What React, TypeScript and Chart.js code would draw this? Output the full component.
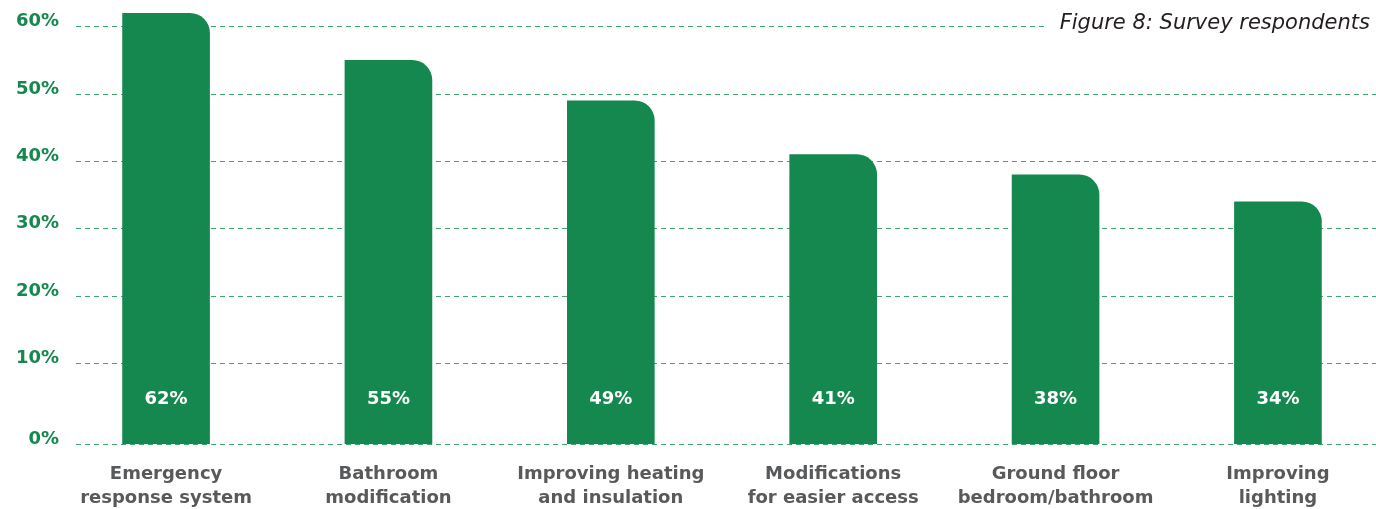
import React, { useEffect, useRef } from 'react';
import { Chart, registerables } from 'chart.js';

Chart.register(...registerables);

// ---- data ----
const categories: string[][] = [
  ['Emergency', 'response system'],
  ['Bathroom', 'modification'],
  ['Improving heating', 'and insulation'],
  ['Modifications', 'for easier access'],
  ['Ground floor', 'bedroom/bathroom'],
  ['Improving', 'lighting'],
];
const values: number[] = [62, 55, 49, 41, 38, 34];
const yTickValues: number[] = [-2, 10, 20, 30, 40, 50, 60];
const yTickLabels: string[] = ['0%', '10%', '20%', '30%', '40%', '50%', '60%'];
const titleText = 'Figure 8: Survey respondents';

// ---- styling constants ----
const AXIS_FLOOR = -2; // the reference's baseline sits slightly below the scale's zero
const AXIS_TOP = 63;
const VALUE_LABEL_LEVEL = 4.7;
const GREEN = '#14884f';
const GRID_GREEN = '#3fa66e';
const GREY = '#58595b';
const FONT = "'DejaVu Sans', sans-serif";

const valueLabelPlugin = {
  id: 'valueLabels',
  afterDatasetsDraw(chart: any) {
    const ctx = chart.ctx;
    const meta = chart.getDatasetMeta(0);
    const y = chart.scales.y.getPixelForValue(VALUE_LABEL_LEVEL);
    ctx.save();
    ctx.font = `bold 18px ${FONT}`;
    ctx.fillStyle = '#ffffff';
    ctx.textAlign = 'center';
    ctx.textBaseline = 'middle';
    meta.data.forEach((el: any, i: number) => {
      ctx.fillText(`${values[i]}%`, el.x, y);
    });
    ctx.restore();
  },
};

const titlePlugin = {
  id: 'figTitle',
  afterDraw(chart: any) {
    const ctx = chart.ctx;
    ctx.save();
    ctx.font = `italic 21px ${FONT}`;
    const w = ctx.measureText(titleText).width;
    const right = chart.width - 6;
    ctx.fillStyle = '#ffffff';
    ctx.fillRect(right - w - 12, 8, w + 18, 28);
    ctx.fillStyle = '#231f20';
    ctx.textAlign = 'right';
    ctx.textBaseline = 'alphabetic';
    ctx.fillText(titleText, right, 29);
    ctx.restore();
  },
};

const zeroPadding = (s: any) => {
  s.paddingLeft = 0;
  s.paddingRight = 0;
  s.paddingTop = 0;
  s.paddingBottom = 0;
};

export default function App() {
  const canvasRef = useRef<HTMLCanvasElement | null>(null);

  useEffect(() => {
    const canvas = canvasRef.current;
    if (!canvas) return;
    Chart.defaults.font.family = FONT;
    const chart = new Chart(canvas, {
      type: 'bar',
      data: {
        datasets: [
          {
            data: values.map((v, i) => ({ x: i, y: v })),
            backgroundColor: GREEN,
            barThickness: 87,
            base: AXIS_FLOOR,
            borderSkipped: 'start',
            borderRadius: { topLeft: 0, topRight: 20, bottomLeft: 0, bottomRight: 0 },
          } as any,
        ],
      },
      options: {
        responsive: false,
        animation: false,
        devicePixelRatio: 1,
        layout: { padding: { top: 6.5, left: 0, right: 0, bottom: 0 } },
        plugins: {
          legend: { display: false },
          tooltip: { enabled: false },
        },
        scales: {
          x: {
            type: 'linear',
            min: -0.405,
            max: 5.441,
            offset: false,
            afterBuildTicks: (s: any) => {
              s.ticks = categories.map((_, i) => ({ value: i }));
            },
            afterFit: (s: any) => {
              s.height = 64.7;
              zeroPadding(s);
            },
            grid: { display: false, drawTicks: false, tickLength: 0 },
            border: { display: false },
            ticks: {
              autoSkip: false,
              maxRotation: 0,
              minRotation: 0,
              padding: 18,
              color: GREY,
              font: { size: 18, weight: 'bold', family: FONT, lineHeight: 1.333 },
              callback: (_v: any, i: number) => categories[i],
            },
          },
          y: {
            type: 'linear',
            min: AXIS_FLOOR,
            max: AXIS_TOP,
            afterBuildTicks: (s: any) => {
              s.ticks = yTickValues.map((v) => ({ value: v }));
            },
            afterFit: (s: any) => {
              s.width = 76;
              zeroPadding(s);
            },
            grid: { color: GRID_GREEN, lineWidth: 1, drawTicks: false, tickLength: 0 },
            border: { display: false, dash: [5, 4] },
            ticks: {
              padding: 17,
              labelOffset: -5,
              color: GREEN,
              font: { size: 18, weight: 'bold', family: FONT },
              callback: (_v: any, i: number) => yTickLabels[i],
            },
          },
        },
      } as any,
      plugins: [valueLabelPlugin, titlePlugin],
    });
    return () => chart.destroy();
  }, []);

  return (
    <div style={{ position: 'fixed', left: 0, top: 0, width: 1376, height: 509, background: '#fff' }}>
      <canvas ref={canvasRef} width={1376} height={509} style={{ width: 1376, height: 509, display: 'block' }} />
    </div>
  );
}
